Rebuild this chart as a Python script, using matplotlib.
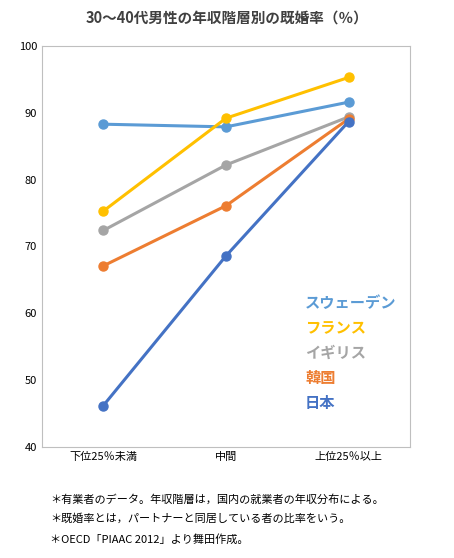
import matplotlib
matplotlib.use('Agg')
from matplotlib import pyplot as plt

plt.rcParams['font.family'] = ['Noto Sans CJK JP', 'DejaVu Sans']

categories = ['下位25％未満', '中間', '上位25％以上']
countries = ['スウェーデン', 'フランス', 'イギリス', '韓国', '日本']
colors = ['#5B9BD5', '#FFC000', '#A5A5A5', '#ED7D31', '#4472C4']
sweden = [88.3, 87.9, 91.6]
france = [75.3, 89.2, 95.3]
uk = [72.4, 82.2, 89.4]
korea = [67.1, 76.1, 89.1]
japan = [46.2, 68.6, 88.7]
series = [sweden, france, uk, korea, japan]

fig = plt.figure(figsize=(4.54, 5.58), dpi=100)
ax = fig.add_axes([42/454, 1-447/558, 368/454, 401/558])
x = [0, 1, 2]
for vals, c in zip(series, colors):
    ax.plot(x, vals, color=c, lw=2.2, marker='o', ms=6.5)

ax.set_xlim(-0.5, 2.5)
ax.set_ylim(40, 100)
ax.set_xticks(x)
ax.set_xticklabels(categories, fontsize=8)
ax.set_yticks(range(40, 101, 10))
ax.tick_params(axis='y', labelsize=8, length=0)
ax.tick_params(axis='x', length=0)
for s in ax.spines.values():
    s.set_color('#BFBFBF')

for i, (name, c) in enumerate(zip(countries, colors)):
    fig.text(305/454, 1-(303+25*i)/558, name, color=c, fontsize=11,
             fontweight='bold', va='center')

fig.text(0.5, 1-18/558, '30～40代男性の年収階層別の既婚率（％）', ha='center',
         va='center', fontsize=10.5, fontweight='bold', color='#404040')

notes = ['＊有業者のデータ。年収階層は，国内の就業者の年収分布による。',
         '＊既婚率とは，パートナーと同居している者の比率をいう。',
         '＊OECD「PIAAC 2012」より舞田作成。']
for i, n in enumerate(notes):
    fig.text(50/454, 1-(499+20*i)/558, n, fontsize=8, va='center')

fig.savefig('out.png', dpi=100)
